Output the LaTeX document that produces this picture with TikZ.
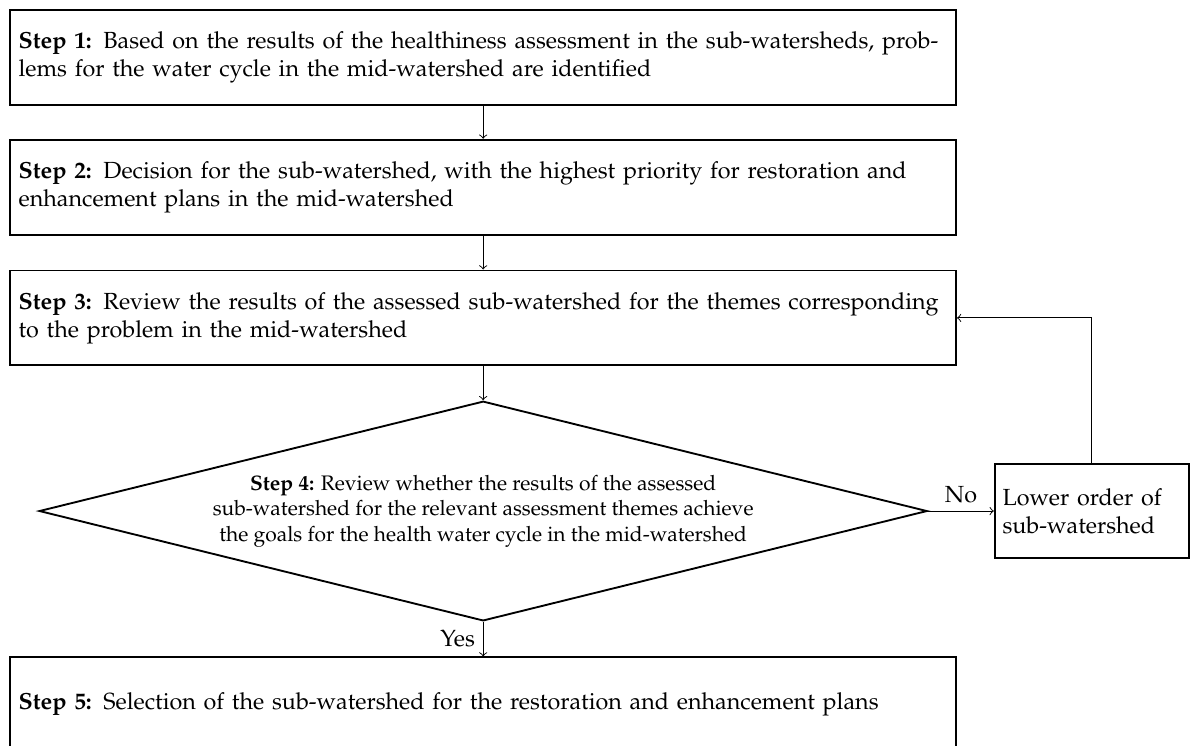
\documentclass[tikz,border=0pt]{standalone}
\usepackage[T1]{fontenc}
\usepackage{mathpazo}
\usepackage{amsmath, amssymb}
\usepackage{tikz}
\usepackage{xcolor}
\usetikzlibrary{shapes.geometric}

\tikzset{
    stepbox/.style={rectangle, draw=black, thick, fill=white, text width=14cm, minimum width=14.25cm, minimum height=1.43cm, align=left},
    decision/.style={diamond, draw=black, thick, fill=white, inner sep=0pt, aspect=4.04, minimum width=13.38cm, minimum height=3.31cm, align=center, font=\small}
}

\begin{document}
\begin{tikzpicture}
            \useasboundingbox (0, 0) rectangle (17.93, -11.24);
            \node[stepbox] (st1) at (7.28, -0.87) {\textbf{Step 1:} Based on the results of the healthiness assessment in the sub-watersheds, prob-\\lems for the water cycle in the mid-watershed are identified};
            \node[stepbox] (st2) at (7.28, -2.82) {\textbf{Step 2:} Decision for the sub-watershed, with the highest priority for restoration and\\enhancement plans in the mid-watershed};
            \node[stepbox] (st3) at (7.28, -4.79) {\textbf{Step 3:} Review the results of the assessed sub-watershed for the themes corresponding\\to the problem in the mid-watershed};
            \node[decision] (st4) at (7.28, -7.70) {\textbf{Step 4:} Review whether the results of the assessed\\sub-watershed for the relevant assessment themes achieve\\the goals for the health water cycle in the mid-watershed};
            \node[stepbox, text width=2.69cm, minimum width=2.92cm, minimum height=1.42cm] (low) at (16.45, -7.70) {Lower order of\\sub-watershed};
            \node[stepbox] (st5) at (7.28, -10.62) {\textbf{Step 5:} Selection of the sub-watershed for the restoration and enhancement plans};

            \draw[->] (st1) -- (st2);
            \draw[->] (st2) -- (st3);
            \draw[->] (st3) -- (st4);
            \draw[->] (st4) -- node[above] {No} (low);
            \draw[->] (low.north) |- (st3.east);
            \draw[->] (st4) -- node[left] {Yes} (st5);
        \end{tikzpicture}
\end{document}
